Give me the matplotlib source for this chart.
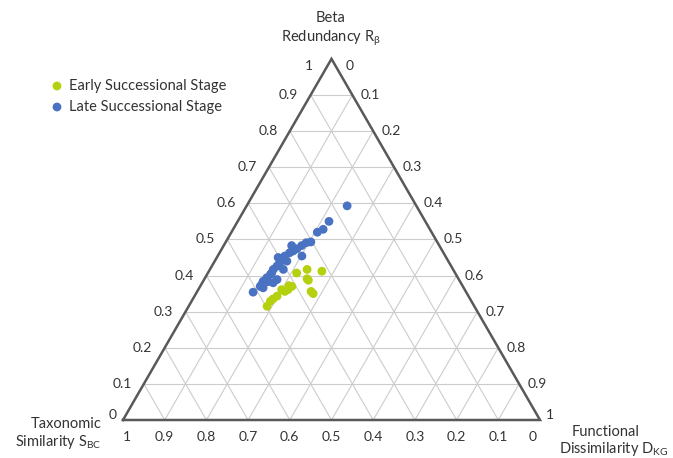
import numpy as np
import matplotlib
matplotlib.use("Agg")
import matplotlib.pyplot as plt

plt.rcParams['font.family'] = ['Lato', 'DejaVu Sans']
plt.rcParams['mathtext.fontset'] = 'custom'
plt.rcParams['mathtext.rm'] = 'Lato'

# ternary data: R = beta redundancy, D = functional dissimilarity, S = 1 - R - D
early_R = [0.417, 0.412, 0.407, 0.391, 0.387, 0.370, 0.361, 0.356, 0.361, 0.350,
           0.343, 0.335, 0.329, 0.315, 0.356, 0.372]
early_D = [0.233, 0.271, 0.213, 0.246, 0.251, 0.220, 0.215, 0.210, 0.200, 0.281,
           0.198, 0.192, 0.189, 0.188, 0.273, 0.212]
late_R = [0.593, 0.550, 0.528, 0.520, 0.493, 0.491, 0.483, 0.474, 0.468, 0.463,
          0.454, 0.454, 0.444, 0.435, 0.426, 0.417, 0.407, 0.403, 0.394, 0.384,
          0.375, 0.366, 0.370, 0.354, 0.440, 0.417, 0.389, 0.380, 0.450, 0.383, 0.483]
late_D = [0.241, 0.219, 0.216, 0.206, 0.204, 0.194, 0.187, 0.180, 0.174, 0.168,
          0.202, 0.161, 0.159, 0.158, 0.156, 0.152, 0.153, 0.152, 0.148, 0.144,
          0.145, 0.153, 0.144, 0.135, 0.173, 0.176, 0.175, 0.170, 0.147, 0.156, 0.163]

ticks = [0.0, 0.1, 0.2, 0.3, 0.4, 0.5, 0.6, 0.7, 0.8, 0.9, 1.0]
tick_labels = ["0", "0.1", "0.2", "0.3", "0.4", "0.5", "0.6", "0.7", "0.8", "0.9", "1"]

GREEN = "#b5d00f"
BLUE = "#4a72c2"
TXT = "#333333"
H = np.sqrt(3) / 2
PX = 1 / 417.0  # one pixel in data units


def tern(R, D):
    R = np.asarray(R, float)
    D = np.asarray(D, float)
    return D + R / 2, R * H


fig = plt.figure(figsize=(6.73, 4.58), dpi=100)
ax = fig.add_axes([0, 0, 1, 1])
ax.set_xlim(-123 * PX, (673 - 123) * PX)
ax.set_ylim(-38 * PX, (458 - 38) * PX)
ax.axis("off")

# grid
for t in ticks[1:-1]:
    # R constant (horizontal)
    x, y = tern([t, t], [0, 1 - t])
    ax.plot(x, y, color="#cccccc", lw=0.8, zorder=1)
    # D constant
    x, y = tern([0, 1 - t], [t, t])
    ax.plot(x, y, color="#cccccc", lw=0.8, zorder=1)
    # S constant
    x, y = tern([0, 1 - t], [1 - t, 0])
    ax.plot(x, y, color="#cccccc", lw=0.8, zorder=1)

# border
x, y = tern([0, 0, 1, 0], [0, 1, 0, 0])
ax.plot(x, y, color="#595959", lw=1.8, zorder=2, solid_joinstyle="miter")

# left axis labels (R)
for t, lab in zip(ticks, tick_labels):
    x, y = tern([t], [0])
    dx, dy = -22, 0
    if t == 0:
        dx, dy = -10, 5
    elif t == 1:
        dx, dy = -23, -7
    ax.text(x[0] + dx * PX, y[0] + dy * PX, lab, ha="center", va="center",
            fontsize=10, color=TXT)

# right axis labels (D)
for t, lab in zip(ticks, tick_labels):
    x, y = tern([1 - t], [t])
    dx, dy = 18, 0
    if t == 0:
        dx, dy = 18.5, -7
    elif t == 1:
        dx, dy = 10, 5
    ax.text(x[0] + dx * PX, y[0] + dy * PX, lab, ha="center", va="center",
            fontsize=10, color=TXT)

# bottom axis labels (S)
for t, lab in zip(ticks, tick_labels):
    x, y = tern([0], [1 - t])
    dx = 0
    if t == 1:
        dx = 4
    elif t == 0:
        dx = -7
    ax.text(x[0] + dx * PX, y[0] - 17 * PX, lab, ha="center", va="center",
            fontsize=10, color=TXT)

# data
x, y = tern(late_R, late_D)
ax.scatter(x, y, s=40, color=BLUE, edgecolors="none", zorder=4)
x, y = tern(early_R, early_D)
ax.scatter(x, y, s=40, color=GREEN, edgecolors="none", zorder=3)

# axis titles
def px(xp, yp):
    return (xp - 123) * PX, (420 - yp) * PX

ax.text(*px(331, 18), "Beta", ha="center", va="center", fontsize=10.5, color=TXT)
ax.text(*px(331, 38), r"Redundancy R$_{\mathrm{β}}$", ha="center", va="center",
        fontsize=10.5, color=TXT)
ax.text(*px(66, 424), "Taxonomic", ha="center", va="center", fontsize=10.5, color=TXT)
ax.text(*px(58, 442), r"Similarity S$_{\mathrm{BC}}$", ha="center", va="center",
        fontsize=10.5, color=TXT)
ax.text(*px(606, 432), "Functional", ha="center", va="center", fontsize=10.5, color=TXT)
ax.text(*px(614, 449), r"Dissimilarity D$_{\mathrm{KG}}$", ha="center", va="center",
        fontsize=10.5, color=TXT)

# legend
ax.scatter(*px(57, 86), s=40, color=GREEN, edgecolors="none")
ax.text(*px(69, 86), "Early Successional Stage", ha="left", va="center",
        fontsize=10.5, color=TXT)
ax.scatter(*px(57, 107), s=40, color=BLUE, edgecolors="none")
ax.text(*px(69, 107), "Late Successional Stage", ha="left", va="center",
        fontsize=10.5, color=TXT)

fig.savefig("out.png", dpi=100)
